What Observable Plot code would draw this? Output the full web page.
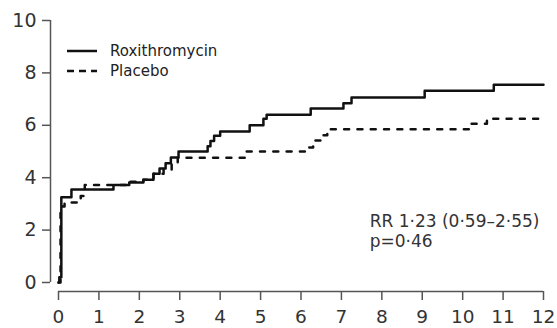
<!DOCTYPE html>
<html><head><meta charset="utf-8">
<script src="https://cdn.jsdelivr.net/npm/d3@7"></script>
<script src="https://cdn.jsdelivr.net/npm/@observablehq/plot@0.6"></script>
<style>
html,body{margin:0;padding:0;background:#fff;}
#wrap{position:relative;width:557px;height:328px;}
.legend{position:absolute;left:66px;top:41px;font-family:"DejaVu Sans";font-size:15px;color:#222;line-height:20px;}
.legend div{display:flex;align-items:center;}
.legend svg{margin-right:12px;}
</style></head><body><div id="wrap"></div>
<script>
// Cumulative event rate (%) by month
const roxiTime = [0, 0.02, 0.07, 0.32, 1.36, 1.75, 2.1, 2.35, 2.5, 2.65, 2.78, 2.97, 3.69, 3.76, 3.85, 4.0, 4.73, 5.07, 5.15, 6.24, 7.05, 7.25, 9.06, 10.77, 12];
const roxiRate = [0, 0.2, 3.25, 3.55, 3.72, 3.82, 3.92, 4.15, 4.35, 4.55, 4.77, 5.0, 5.2, 5.4, 5.6, 5.76, 6.0, 6.25, 6.4, 6.64, 6.84, 7.06, 7.32, 7.55, 7.55];
const placTime = [0, 0.05, 0.15, 0.55, 0.65, 1.75, 2.1, 2.35, 2.6, 2.8, 2.95, 4.63, 6.14, 6.3, 6.48, 6.65, 10.2, 10.6, 12];
const placRate = [0, 2.9, 3.05, 3.3, 3.72, 3.85, 3.92, 4.15, 4.3, 4.55, 4.76, 5.0, 5.15, 5.42, 5.62, 5.85, 6.06, 6.25, 6.25];
const seriesNames = ["Roxithromycin", "Placebo"];
const xTicks = [0,1,2,3,4,5,6,7,8,9,10,11,12];
const yTicks = [0,2,4,6,8,10];
const annotationLines = ["RR 1·23 (0·59–2·55)", "p=0·46"];

const roxi = roxiTime.map((t,i)=>({t, v: roxiRate[i]}));
const plac = placTime.map((t,i)=>({t, v: placRate[i]}));

const chart = Plot.plot({
  width: 557, height: 328,
  marginLeft: 50, marginRight: 14, marginTop: 20, marginBottom: 37,
  style: {fontFamily: "DejaVu Sans", fontSize: "19px", color: "#333", background: "white"},
  x: {domain: [0,12], insetLeft: 8},
  y: {domain: [0,10], insetBottom: 9},
  marks: [
    Plot.ruleX([0], {y1: 0, y2: 10, dx: -8, stroke: "#555", strokeWidth: 1.5}),
    Plot.ruleY([0], {x1: 0, x2: 12, dy: 9, stroke: "#555", strokeWidth: 1.5}),
    Plot.axisY({ticks: yTicks, tickSize: 8, tickPadding: 6, label: null, fontSize: 19, stroke: "#555", strokeWidth: 1.5, color: "#333"}),
    Plot.axisX({ticks: xTicks, tickSize: 9, tickPadding: 9, label: null, fontSize: 18.5, stroke: "#555", strokeWidth: 1.5, color: "#333"}),
    Plot.line(plac, {x: "t", y: "v", curve: "step-after", stroke: "#111", strokeWidth: 2.5, strokeDasharray: "5,8.3"}),
    Plot.line(roxi, {x: "t", y: "v", curve: "step-after", stroke: "#111", strokeWidth: 2.5}),
    Plot.text([annotationLines.join("\n")], {x: () => 7.7, y: () => 2.65, text: d => d, textAnchor: "start", lineAnchor: "top", lineHeight: 1.18, fontSize: 17, fill: "#333"})
  ]
});
const wrap = document.getElementById("wrap");
wrap.appendChild(chart);
const lg = document.createElement("div");
lg.className = "legend";
lg.innerHTML = seriesNames.map((n,i)=>`<div><svg width="32" height="8"><line x1="1" x2="31" y1="4" y2="4" stroke="#111" stroke-width="2.5" ${i===1?'stroke-dasharray="7,5"':''}/></svg>${n}</div>`).join("");
wrap.appendChild(lg);
</script></body></html>
